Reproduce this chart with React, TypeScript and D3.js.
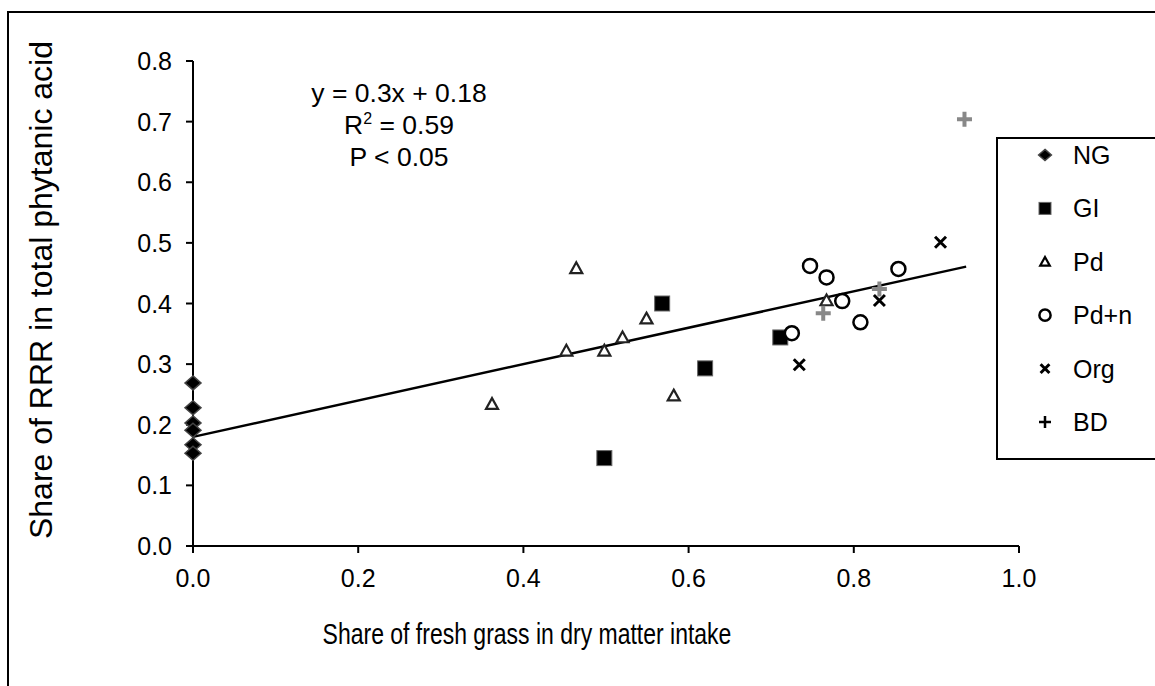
import * as d3 from "d3";

type Pt = [number, number];

// series: [share of fresh grass, share of RRR]
const ngPoints: Pt[] = [[0, 0.269], [0, 0.228], [0, 0.203], [0, 0.191], [0, 0.167], [0, 0.153]];
const giPoints: Pt[] = [[0.568, 0.4], [0.62, 0.293], [0.498, 0.145], [0.711, 0.344]];
const pdPoints: Pt[] = [
  [0.464, 0.458], [0.549, 0.375], [0.52, 0.344], [0.452, 0.322],
  [0.498, 0.322], [0.362, 0.234], [0.582, 0.248], [0.767, 0.405]
];
const pdnPoints: Pt[] = [[0.747, 0.462], [0.767, 0.443], [0.854, 0.457], [0.786, 0.404], [0.808, 0.369], [0.725, 0.351]];
const orgPoints: Pt[] = [[0.905, 0.501], [0.831, 0.405], [0.734, 0.299]];
const bdPoints: Pt[] = [[0.934, 0.704], [0.831, 0.424], [0.763, 0.384]];

const legendLabels = ["NG", "GI", "Pd", "Pd+n", "Org", "BD"];
const xTicks = [0, 0.2, 0.4, 0.6, 0.8, 1.0];
const yTicks = [0, 0.1, 0.2, 0.3, 0.4, 0.5, 0.6, 0.7, 0.8];
const fit = { slope: 0.3, intercept: 0.18, xMin: 0, xMax: 0.936 };

const font = "'Liberation Sans', Arial, sans-serif";

type Shape = "diamond" | "square" | "triangle" | "circle" | "cross" | "plus";

function Marker({ shape, cx, cy, legend = false }: { shape: Shape; cx: number; cy: number; legend?: boolean }) {
  const k = legend ? 0.8 : 1;
  switch (shape) {
    case "diamond": {
      const w = 8 * k, h = 7 * k;
      return <path d={`M${cx},${cy - h}L${cx + w},${cy}L${cx},${cy + h}L${cx - w},${cy}Z`} fill="#000" stroke="#444" strokeWidth={1.5} />;
    }
    case "square": {
      const s = 7.5 * k;
      return <rect x={cx - s} y={cy - s} width={s * 2} height={s * 2} fill="#000" stroke="#666" strokeWidth={1} />;
    }
    case "triangle": {
      const w = 6 * k, h = 6 * k;
      return <path d={`M${cx},${cy - h}L${cx + w},${cy + h * 0.8}L${cx - w},${cy + h * 0.8}Z`} fill="#fff" stroke={legend ? "#000" : "#222"} strokeWidth={2.2} />;
    }
    case "circle":
      return <circle cx={cx} cy={cy} r={7 * k} fill="#fff" stroke="#000" strokeWidth={2.5} />;
    case "cross": {
      const s = 5.5 * k;
      return (
        <path d={`M${cx - s},${cy - s}L${cx + s},${cy + s}M${cx - s},${cy + s}L${cx + s},${cy - s}`} stroke="#000" strokeWidth={3} />
      );
    }
    case "plus": {
      const s = legend ? 6 : 7.5;
      return (
        <path
          d={`M${cx - s},${cy}L${cx + s},${cy}M${cx},${cy - s}L${cx},${cy + s}`}
          stroke={legend ? "#000" : "#888"}
          strokeWidth={legend ? 2.5 : 4}
        />
      );
    }
  }
}

export default function App() {
  const width = 1155;
  const height = 686;
  const x = d3.scaleLinear([0, 1], [193, 1019]);
  const y = d3.scaleLinear([0, 0.8], [546, 61]);
  const fmt = d3.format(".1f");

  const series: { shape: Shape; points: Pt[] }[] = [
    { shape: "diamond", points: ngPoints },
    { shape: "square", points: giPoints },
    { shape: "triangle", points: pdPoints },
    { shape: "circle", points: pdnPoints },
    { shape: "cross", points: orgPoints },
    { shape: "plus", points: bdPoints }
  ];

  const fitLine = d3.line<number>()
    .x((v) => x(v))
    .y((v) => y(fit.slope * v + fit.intercept));

  const legendY = d3.scalePoint(legendLabels, [155, 422]);

  return (
    <svg
      width={width}
      height={height}
      viewBox={`0 0 ${width} ${height}`}
      style={{ position: "absolute", left: 0, top: 0, background: "#fff", fontFamily: font }}
    >
      <rect x={8} y={12} width={1200} height={720} fill="#fff" stroke="#000" strokeWidth={2} />

      {/* axes */}
      <line x1={x(0)} x2={x(0)} y1={y(0.8)} y2={y(0)} stroke="#000" strokeWidth={2} />
      <line x1={x(0)} x2={x(1)} y1={y(0)} y2={y(0)} stroke="#000" strokeWidth={2} />
      {yTicks.map((t) => (
        <g key={`y${t}`}>
          <line x1={x(0) - 7} x2={x(0)} y1={y(t)} y2={y(t)} stroke="#000" strokeWidth={2} />
          <text x={172} y={y(t) + 9} textAnchor="end" fontSize={25}>{fmt(t)}</text>
        </g>
      ))}
      {xTicks.map((t) => (
        <g key={`x${t}`}>
          <line x1={x(t)} x2={x(t)} y1={y(0)} y2={y(0) + 7} stroke="#000" strokeWidth={2} />
          <text x={x(t)} y={587} textAnchor="middle" fontSize={25}>{fmt(t)}</text>
        </g>
      ))}
      <text transform="translate(527,644) scale(1,1.25)" textAnchor="middle" fontSize={23}>
        Share of fresh grass in dry matter intake
      </text>
      <text transform="translate(52,290) rotate(-90)" textAnchor="middle" fontSize={32}>
        Share of RRR in total phytanic acid
      </text>

      {/* regression */}
      <path d={fitLine([fit.xMin, fit.xMax]) ?? undefined} fill="none" stroke="#000" strokeWidth={2.5} />

      {series.map((s) =>
        s.points.map((p, i) => <Marker key={`${s.shape}${i}`} shape={s.shape} cx={x(p[0])} cy={y(p[1])} />)
      )}

      {/* equation */}
      <g fontSize={26.5} textAnchor="middle">
        <text x={399} y={101.5}>y = 0.3x + 0.18</text>
        <text x={399} y={133.5}>
          R<tspan fontSize={16} dy={-10}>2</tspan><tspan dy={10}> = 0.59</tspan>
        </text>
        <text x={399} y={165.5}>P &lt; 0.05</text>
      </g>

      {/* legend */}
      <rect x={997} y={138} width={200} height={321} fill="#fff" stroke="#000" strokeWidth={2} />
      {legendLabels.map((label, i) => (
        <g key={label}>
          <Marker shape={series[i].shape} cx={1045} cy={legendY(label) ?? 0} legend />
          <text x={1073} y={(legendY(label) ?? 0) + 9} fontSize={25}>{label}</text>
        </g>
      ))}
    </svg>
  );
}
